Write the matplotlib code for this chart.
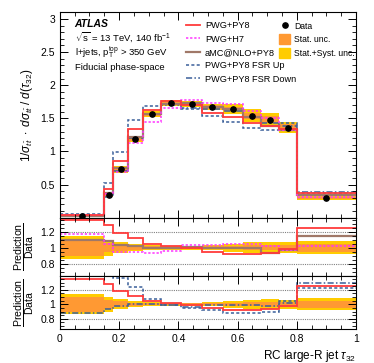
import numpy as np
import matplotlib
matplotlib.use("Agg")
from matplotlib import pyplot as plt
from matplotlib.patches import Patch
from matplotlib.lines import Line2D

plt.rcParams['font.family'] = ['Liberation Sans', 'DejaVu Sans']
plt.rcParams['mathtext.fontset'] = 'custom'
plt.rcParams['mathtext.rm'] = 'Liberation Sans'
plt.rcParams['mathtext.it'] = 'Liberation Sans:italic'
plt.rcParams['mathtext.bf'] = 'Liberation Sans:bold'

# bin edges of tau32 and unfolded data
edges = [0, 0.15, 0.18, 0.23, 0.28, 0.34, 0.41, 0.48, 0.55, 0.62, 0.68, 0.74, 0.80, 1.0]
data = [0.03, 0.34, 0.73, 1.19, 1.56, 1.73, 1.72, 1.67, 1.64, 1.54, 1.48, 1.36, 0.30]
stat_rel = [0.10, 0.06, 0.04, 0.025, 0.015, 0.012, 0.012, 0.015, 0.02, 0.03, 0.035, 0.035, 0.05]
tot_rel = [0.14, 0.10, 0.07, 0.04, 0.03, 0.025, 0.025, 0.03, 0.05, 0.065, 0.07, 0.065, 0.085]

# predictions / data
pwg_py8 = [1.35, 1.28, 1.18, 1.12, 1.04, 1.02, 0.99, 0.95, 0.925, 0.925, 0.93, 0.98, 1.25]
pwg_h7 = [1.17, 1.04, 0.95, 0.95, 0.93, 0.96, 1.03, 1.035, 1.05, 1.05, 1.02, 0.97, 1.02]
amc_py8 = [1.09, 1.085, 1.035, 1.02, 1.0, 0.99, 1.01, 1.0, 1.0, 0.99, 0.93, 0.97, 1.14]
fsr_up = [1.7, 1.56, 1.36, 1.24, 1.08, 0.99, 0.95, 0.92, 0.88, 0.88, 0.89, 1.05, 1.22]
fsr_down = [0.88, 0.94, 0.97, 1.01, 1.0, 0.985, 0.965, 0.985, 0.985, 0.99, 0.97, 1.02, 1.3]

edges = np.array(edges)
data = np.array(data)
stat_rel = np.array(stat_rel)
tot_rel = np.array(tot_rel)
centers = 0.5 * (edges[1:] + edges[:-1])

c_red = "#ff3b3b"
c_mag = "#ff33ff"
c_brown = "#a07868"
c_blue = "#3a5f9a"
c_stat = "#ff9933"
c_syst = "#ffcc00"

models_top = [
    (pwg_py8, dict(color=c_red, lw=1.3, ls='-'), "PWG+PY8"),
    (pwg_h7, dict(color=c_mag, lw=1.1, ls=(0, (1.5, 1.2))), "PWG+H7"),
    (amc_py8, dict(color=c_brown, lw=1.6, ls='-'), "aMC@NLO+PY8"),
    (fsr_up, dict(color=c_blue, lw=1.1, ls=(0, (2, 1.5))), "PWG+PY8 FSR Up"),
    (fsr_down, dict(color=c_blue, lw=1.1, ls=(0, (4, 1.5, 1, 1.5))), "PWG+PY8 FSR Down"),
]

fig = plt.figure(figsize=(3.74, 3.63), dpi=100)
ax = fig.add_axes([0.160, 0.4003, 0.792, 0.5658])
ax2 = fig.add_axes([0.160, 0.2405, 0.792, 0.159])
ax3 = fig.add_axes([0.160, 0.0928, 0.792, 0.1477])

# top panel
ax.stairs(data * (1 + tot_rel), edges, baseline=data * (1 - tot_rel), fill=True, color=c_syst, lw=0)
ax.stairs(data * (1 + stat_rel), edges, baseline=data * (1 - stat_rel), fill=True, color=c_stat, lw=0)
for vals, st, lab in models_top[::-1]:
    ax.stairs(data * np.array(vals), edges, baseline=None, **st)
ax.plot(centers, data, 'o', color='black', ms=3.8, zorder=5)
ax.set_ylim(0, 3.1)
ax.set_yticks([0.5, 1, 1.5, 2, 2.5, 3])
ax.set_yticklabels(["0.5", "1", "1.5", "2", "2.5", "3"])
ax.set_ylabel(r"$1/\sigma_{t\bar{t}}\ \cdot\ d\sigma_{t\bar{t}}\ /\ d(\tau_{32})$", fontsize=8.5, labelpad=4)

ax.text(0.05, 0.93, "ATLAS", transform=ax.transAxes, fontsize=7.5, fontweight='bold', style='italic')
ax.text(0.05, 0.86, r"$\sqrt{\mathregular{s}}$ = 13 TeV, 140 fb$^{-1}$", transform=ax.transAxes, fontsize=6.8)
ax.text(0.05, 0.79, r"l+jets, p$_{\mathregular{T}}^{\mathregular{top}}$ > 350 GeV", transform=ax.transAxes, fontsize=6.8)
ax.text(0.05, 0.72, "Fiducial phase-space", transform=ax.transAxes, fontsize=6.8)

h_left = [Line2D([], [], **st) for vals, st, lab in models_top]
l_left = [lab for vals, st, lab in models_top]
leg1 = ax.legend(h_left, l_left, loc='upper left', bbox_to_anchor=(0.415, 0.975), frameon=False,
                 fontsize=6.6, handlelength=1.5, handletextpad=0.5, labelspacing=0.48, borderaxespad=0)
ax.add_artist(leg1)
h_right = [Line2D([], [], marker='o', color='black', ls='none', ms=3.8),
           Patch(color=c_stat), Patch(color=c_syst)]
ax.legend(h_right, ["Data", "Stat. unc.", "Stat.+Syst. unc."], loc='upper left', bbox_to_anchor=(0.728, 0.975),
          frameon=False, fontsize=6.2, handlelength=1.3, handleheight=1.4, handletextpad=0.5,
          labelspacing=0.4, borderaxespad=0)

# ratio panels
ratio_sets = [(ax2, models_top[:3], (0.65, 1.37)), (ax3, [models_top[0]] + models_top[3:], (0.655, 1.395))]
for a, mods, lim in ratio_sets:
    a.stairs(1 + tot_rel, edges, baseline=1 - tot_rel, fill=True, color=c_syst, lw=0)
    a.stairs(1 + stat_rel, edges, baseline=1 - stat_rel, fill=True, color=c_stat, lw=0)
    for yv in [0.8, 1.2]:
        a.axhline(yv, color='gray', ls=(0, (1, 1)), lw=0.8, zorder=0.5)
    for vals, st, lab in mods[::-1]:
        a.stairs(vals, edges, baseline=None, **st)
    a.set_ylim(*lim)
    a.set_yticks([0.8, 1, 1.2])
    a.set_yticklabels(["0.8", "1", "1.2"])
    a.set_ylabel("$\\frac{\\mathregular{Prediction}}{\\mathregular{Data}}$", fontsize=10.8, labelpad=3)

for a in [ax, ax2, ax3]:
    a.set_xlim(0, 1)
    a.set_xticks([0, 0.2, 0.4, 0.6, 0.8, 1.0])
    a.set_xticks(np.arange(0, 1.001, 0.05), minor=True)
    a.tick_params(which='both', direction='in', top=True, right=True, labelsize=7.5)
    a.tick_params(which='major', length=6, width=0.7)
    a.tick_params(which='minor', length=3, width=0.6)
    for s in a.spines.values():
        s.set_linewidth(0.8)
ax.set_yticks(np.arange(0, 3.1, 0.1), minor=True)
ax2.set_yticks(np.arange(0.7, 1.4, 0.05), minor=True)
ax3.set_yticks(np.arange(0.7, 1.4, 0.05), minor=True)
ax.tick_params(labelbottom=False)
ax2.tick_params(labelbottom=False)
ax3.set_xticklabels(["0", "0.2", "0.4", "0.6", "0.8", "1"])
ax3.set_xlabel(r"RC large-R jet $\tau_{32}$", fontsize=8.5, loc='right', labelpad=3)
fig.align_ylabels([ax, ax2, ax3])

plt.savefig("out.png", dpi=100)
